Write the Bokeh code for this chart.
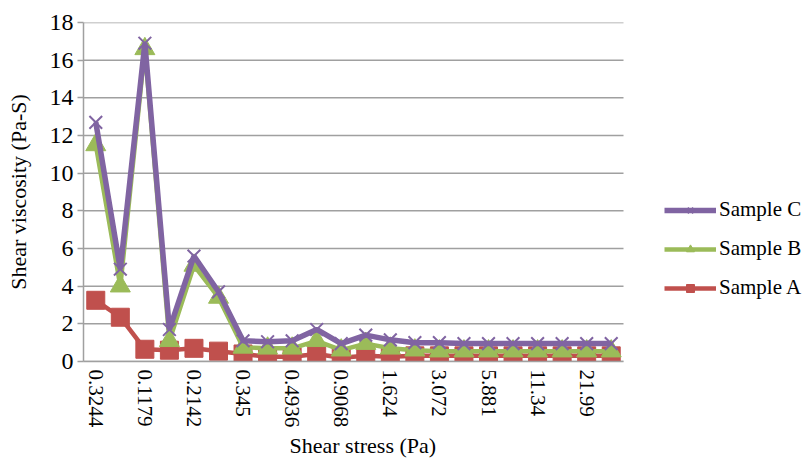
from bokeh.plotting import figure
from bokeh.models import Range1d, FixedTicker, Legend, LegendItem, Title
from bokeh.embed import file_html
from bokeh.resources import INLINE

# Category labels shown on the x axis (every other category is labelled)
shear_stress_labels = ["0.3244", "0.1179", "0.2142", "0.345", "0.4936", "0.9068",
                       "1.624", "3.072", "5.881", "11.34", "21.99"]

# Shear viscosity (Pa-S) per category
sample_a = [3.25, 2.35, 0.65, 0.6, 0.7, 0.55, 0.4, 0.25, 0.25, 0.4, 0.2,
            0.3, 0.25, 0.3, 0.3, 0.3, 0.3, 0.3, 0.3, 0.3, 0.3, 0.3]
sample_b = [11.5, 4.0, 16.6, 1.1, 5.1, 3.4, 0.75, 0.7, 0.7, 1.1, 0.6,
            0.95, 0.7, 0.6, 0.55, 0.55, 0.55, 0.55, 0.55, 0.55, 0.55, 0.55]
sample_c = [12.7, 4.9, 16.9, 1.7, 5.6, 3.7, 1.1, 1.05, 1.1, 1.7, 0.95,
            1.4, 1.15, 1.0, 1.0, 0.95, 0.95, 0.95, 0.95, 0.95, 0.95, 0.95]

y_ticks = [0, 2, 4, 6, 8, 10, 12, 14, 16, 18]

n = len(sample_a)
xs = list(range(n))
label_pos = list(range(0, n, 2))[:len(shear_stress_labels)]

FONT = "Liberation Serif"
GRAY = "#a0a0a0"
RED = "#C0504D"
GREEN = "#9BBB59"
PURPLE = "#8064A2"

W, H = 802, 459
LEFT, TOP, BOTTOM = 83, 22, 98
PLOT_W = 540  # width of the category area
frame_w = W - LEFT
x_end = -0.5 + frame_w * n / PLOT_W

p = figure(width=W, height=H, output_backend="svg", toolbar_location=None,
           x_range=Range1d(-0.5, x_end), y_range=Range1d(0, 18),
           min_border_left=LEFT, min_border_top=TOP, min_border_right=0,
           min_border_bottom=BOTTOM)
p.outline_line_color = None
p.xgrid.visible = False
p.ygrid.visible = False

# horizontal gridlines only over the category area
p.segment(x0=[-0.5] * len(y_ticks), x1=[n - 0.5] * len(y_ticks), y0=y_ticks, y1=y_ticks,
          line_color=GRAY, line_width=1.5)

# x axis
p.xaxis.bounds = (-0.5, n - 0.5)
p.xaxis.ticker = FixedTicker(ticks=label_pos)
p.xaxis.major_label_overrides = {pos: lab for pos, lab in zip(label_pos, shear_stress_labels)}
p.xaxis.major_label_orientation = "vertical"
p.xaxis.major_tick_out = 0
p.xaxis.major_tick_in = 0
p.xaxis.minor_tick_out = 0
p.xaxis.minor_tick_in = 0
p.xaxis.major_label_standoff = 8
p.xaxis.major_label_text_font = FONT
p.xaxis.major_label_text_font_size = "21px"
p.xaxis.major_label_text_color = "black"
p.xaxis.axis_line_color = GRAY
p.xaxis.axis_line_width = 1.5

# x axis title, placed under the category area
p.add_layout(Title(text="Shear stress (Pa)", align="left", offset=206,
                   text_font=FONT, text_font_size="22px", text_font_style="normal",
                   text_color="black", standoff=0), "below")

# y axis
p.yaxis.ticker = FixedTicker(ticks=y_ticks)
p.yaxis.major_tick_out = 6
p.yaxis.major_tick_in = 0
p.yaxis.minor_tick_out = 0
p.yaxis.minor_tick_in = 0
p.yaxis.major_tick_line_color = GRAY
p.yaxis.major_tick_line_width = 1.5
p.yaxis.major_label_standoff = 4
p.yaxis.major_label_text_font = FONT
p.yaxis.major_label_text_font_size = "24px"
p.yaxis.major_label_text_color = "black"
p.yaxis.axis_label = "Shear viscosity (Pa-S)"
p.yaxis.axis_label_text_font = FONT
p.yaxis.axis_label_text_font_size = "22px"
p.yaxis.axis_label_text_font_style = "normal"
p.yaxis.axis_label_text_color = "black"
p.yaxis.axis_label_standoff = 16
p.yaxis.axis_line_color = GRAY
p.yaxis.axis_line_width = 1.5

# series
la = p.line(xs, sample_a, line_color=RED, line_width=4.5)
ma = p.scatter(xs, sample_a, marker="square", size=18, fill_color=RED, line_color=RED)
lb = p.line(xs, sample_b, line_color=GREEN, line_width=4.5)
mb = p.scatter(xs, sample_b, marker="triangle", size=20, fill_color=GREEN, line_color=GREEN)
lc = p.line(xs, sample_c, line_color=PURPLE, line_width=5.5)
mc = p.scatter(xs, sample_c, marker="x", size=18, line_color=PURPLE, line_width=2)

legend = Legend(items=[
    LegendItem(label="Sample C", renderers=[lc, mc]),
    LegendItem(label="Sample B", renderers=[lb, mb]),
    LegendItem(label="Sample A", renderers=[la, ma]),
], location=(581, 61))
legend.border_line_color = None
legend.background_fill_alpha = 0
legend.label_text_font = FONT
legend.label_text_font_size = "21px"
legend.label_text_color = "black"
legend.glyph_width = 52
legend.glyph_height = 20
legend.label_height = 20
legend.label_standoff = 3
legend.spacing = 14
legend.padding = 0
legend.margin = 0
p.add_layout(legend, "center")

open("out.html", "w").write(file_html(p, INLINE))
